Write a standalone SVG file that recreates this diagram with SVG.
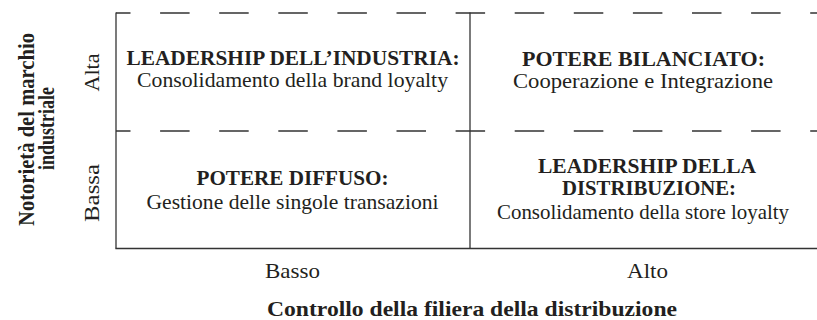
<svg xmlns="http://www.w3.org/2000/svg" width="817" height="320" viewBox="0 0 817 320">
<style>
text{font-family:"Liberation Serif","Times New Roman",serif;fill:#231f20;text-anchor:middle}
.t{font-weight:bold;font-size:20px}
.s{font-size:21px}
.ax{font-size:22px}
.axt{font-weight:bold;font-size:22px}
.yt{font-weight:bold;font-size:23px}
.solid{stroke:#333;stroke-width:1.3;fill:none}
.dash{stroke:#333;stroke-width:1.3;fill:none;stroke-dasharray:29.5 29.6;stroke-dashoffset:15}
</style>
<rect width="817" height="320" fill="#fff"/>
<g id="grid">
<line class="dash" x1="116" y1="13" x2="817" y2="13"/>
<line class="dash" x1="116" y1="131" x2="817" y2="131"/>
<line class="solid" x1="116" y1="12.5" x2="116" y2="248.5"/>
<line class="solid" x1="470" y1="12.5" x2="470" y2="248.5"/>
<line class="solid" x1="115.4" y1="248.5" x2="817" y2="248.5"/>
</g>
<g id="q-industria">
<text class="t" x="293" y="65" textLength="333" lengthAdjust="spacingAndGlyphs">LEADERSHIP DELL’INDUSTRIA:</text>
<text class="s" x="292.5" y="87" textLength="311" lengthAdjust="spacingAndGlyphs">Consolidamento della brand loyalty</text>
</g>
<g id="q-bilanciato">
<text class="t" x="643.5" y="65.5" textLength="243" lengthAdjust="spacingAndGlyphs">POTERE BILANCIATO:</text>
<text class="s" x="643" y="88" textLength="260" lengthAdjust="spacingAndGlyphs">Cooperazione e Integrazione</text>
</g>
<g id="q-diffuso">
<text class="t" x="292.5" y="185" textLength="192" lengthAdjust="spacingAndGlyphs">POTERE DIFFUSO:</text>
<text class="s" x="292.5" y="209" textLength="292" lengthAdjust="spacingAndGlyphs">Gestione delle singole transazioni</text>
</g>
<g id="q-distribuzione">
<text class="t" x="647" y="173" textLength="218" lengthAdjust="spacingAndGlyphs">LEADERSHIP DELLA</text>
<text class="t" x="649" y="195" textLength="174" lengthAdjust="spacingAndGlyphs">DISTRIBUZIONE:</text>
<text class="s" x="643" y="219" textLength="292" lengthAdjust="spacingAndGlyphs">Consolidamento della store loyalty</text>
</g>
<g id="x-axis">
<text class="ax" x="292.5" y="278" textLength="55" lengthAdjust="spacingAndGlyphs">Basso</text>
<text class="ax" x="647.5" y="278" textLength="41" lengthAdjust="spacingAndGlyphs">Alto</text>
<text class="axt" x="472" y="316" textLength="410" lengthAdjust="spacingAndGlyphs">Controllo della filiera della distribuzione</text>
</g>
<g id="y-axis">
<text class="ax" transform="translate(98.5,72.5) rotate(-90)" textLength="38" lengthAdjust="spacingAndGlyphs">Alta</text>
<text class="ax" transform="translate(98.5,193) rotate(-90)" textLength="58" lengthAdjust="spacingAndGlyphs">Bassa</text>
<text class="yt" transform="translate(33.5,129.5) rotate(-90)" textLength="193" lengthAdjust="spacingAndGlyphs">Notorietà del marchio</text>
<text class="yt" transform="translate(54,128.5) rotate(-90)" textLength="83" lengthAdjust="spacingAndGlyphs">industriale</text>
</g>
</svg>
